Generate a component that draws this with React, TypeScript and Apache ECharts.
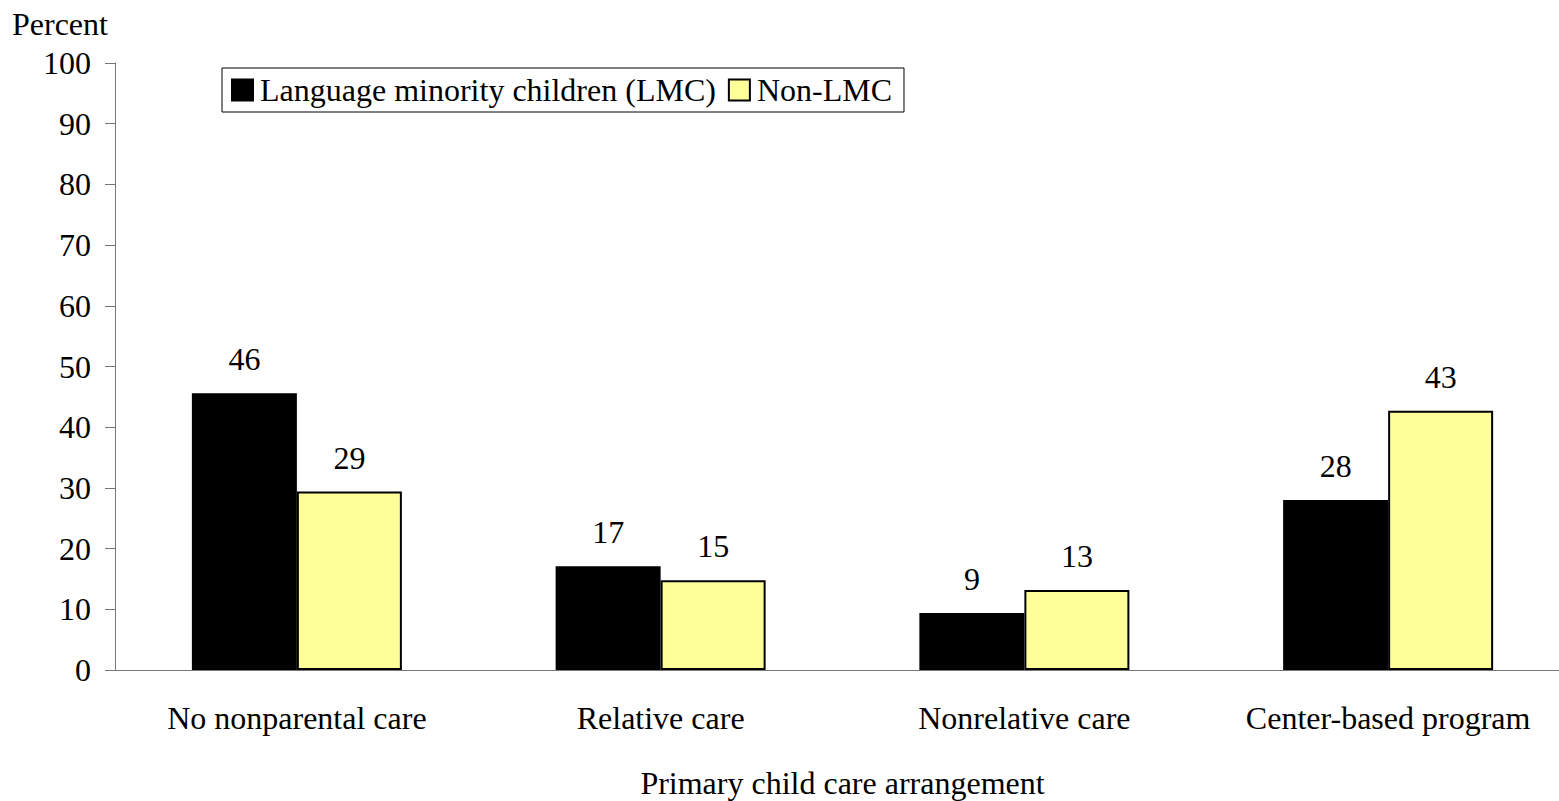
import React, { useEffect, useRef } from "react";
import * as echarts from "echarts";

const categories = ["No nonparental care", "Relative care", "Nonrelative care", "Center-based program"];
const lmcValues = [45.6, 17.1, 9.4, 28.0];
const nonLmcValues = [29.4, 14.8, 13.2, 42.7];
const seriesNames = ["Language minority children (LMC)", "Non-LMC"];
const yTicks = { min: 0, max: 100, interval: 10 };

const FONT = "'Liberation Serif', 'Times New Roman', serif";
const FS = 32;

export default function App() {
  const ref = useRef<HTMLDivElement>(null);
  useEffect(() => {
    if (!ref.current) return;
    document.body.style.margin = "0";
    document.body.style.overflow = "hidden";
    const chart = echarts.init(ref.current, undefined, { renderer: "svg" });
    const labelCfg = {
      show: true,
      position: "top",
      distance: 18,
      color: "#000",
      fontFamily: FONT,
      fontSize: FS,
      formatter: (p: any) => String(Math.round(p.value)),
    };
    chart.setOption({
      animation: false,
      backgroundColor: "#fff",
      textStyle: { fontFamily: FONT, color: "#000" },
      grid: {
        left: 115,
        right: -11,
        top: 63,
        bottom: 131,
        containLabel: false,
        outerBoundsMode: "none",
      },
      graphic: [
        {
          type: "text",
          left: 12,
          top: 8,
          style: { text: "Percent", fontFamily: FONT, fontSize: FS, fill: "#000" },
        },
      ],
      legend: {
        left: 222,
        top: 68,
        orient: "horizontal",
        borderColor: "#000",
        borderWidth: 1,
        padding: [6, 12, 6, 9],
        itemWidth: 21,
        itemHeight: 21,
        itemGap: 12,
        icon: "rect",
        textStyle: { fontFamily: FONT, fontSize: FS, color: "#000", padding: [0, 0, 0, 2] },
        data: seriesNames,
      },
      xAxis: {
        type: "category",
        data: categories,
        name: "Primary child care arrangement",
        nameLocation: "middle",
        nameGap: 97,
        nameTextStyle: { fontFamily: FONT, fontSize: FS, color: "#000" },
        axisLine: { show: true, lineStyle: { color: "#777", width: 1 } },
        axisTick: { show: false },
        axisLabel: { margin: 32, fontFamily: FONT, fontSize: FS, color: "#000", interval: 0 },
      },
      yAxis: {
        type: "value",
        min: yTicks.min,
        max: yTicks.max,
        interval: yTicks.interval,
        axisLine: { show: true, lineStyle: { color: "#777", width: 1 } },
        axisTick: { show: true, length: 10, lineStyle: { color: "#777" } },
        axisLabel: { margin: 24, fontFamily: FONT, fontSize: FS, color: "#000" },
        splitLine: { show: false },
      },
      series: [
        {
          name: seriesNames[0],
          type: "bar",
          data: lmcValues,
          barWidth: 105,
          barGap: "0%",
          itemStyle: { color: "#000", borderColor: "#000", borderWidth: 2 },
          label: labelCfg,
        },
        {
          name: seriesNames[1],
          type: "bar",
          data: nonLmcValues,
          barWidth: 105,
          barGap: "0%",
          itemStyle: { color: "#FFFF99", borderColor: "#000", borderWidth: 2 },
          label: labelCfg,
        },
      ],
    });
    return () => chart.dispose();
  }, []);
  return (
    <div
      ref={ref}
      style={{ position: "fixed", left: 0, top: 0, width: 1559, height: 801 }}
    />
  );
}
